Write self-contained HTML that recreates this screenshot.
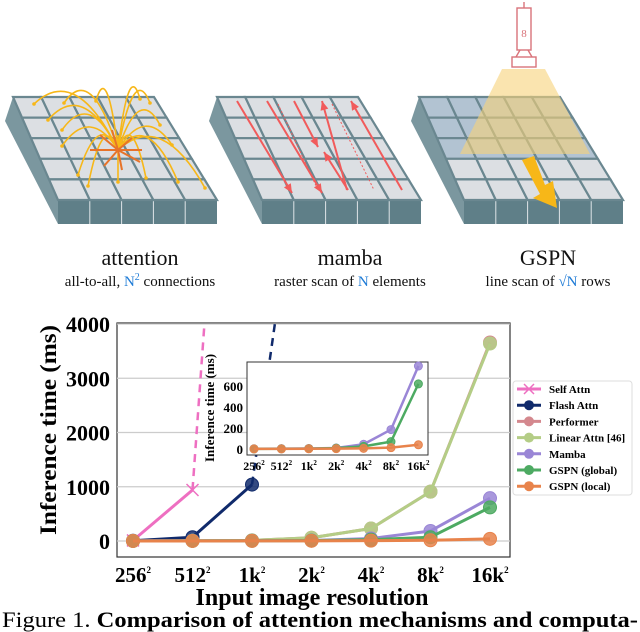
<!DOCTYPE html>
<html><head><meta charset="utf-8">
<style>
html,body{margin:0;padding:0;background:#fff;}
body{width:640px;height:632px;position:relative;overflow:hidden;font-family:"Liberation Serif","Times New Roman",serif;}
svg{position:absolute;left:0;top:0;}
svg text{font-family:"Liberation Serif","Times New Roman",serif;}
</style></head>
<body>
<svg id="illus" width="640" height="300" viewBox="0 0 640 300"></svg>
<svg id="chart" width="640" height="632" viewBox="0 0 640 632"></svg>
<script>
const NS='http://www.w3.org/2000/svg';
function mk(parent,tag,attrs,text){const e=document.createElementNS(NS,tag);for(const k in attrs)e.setAttribute(k,attrs[k]);if(text!==undefined)e.textContent=text;parent.appendChild(e);return e;}

/* ---------- Illustration ---------- */
const il=document.getElementById('illus');
function pt(ox,u,v){
  const tl=[ox+13,97],tr=[ox+154,97],bl=[ox+58,200],br=[ox+217,200];
  const x=(1-v)*((1-u)*tl[0]+u*tr[0])+v*((1-u)*bl[0]+u*br[0]);
  const y=(1-v)*((1-u)*tl[1]+u*tr[1])+v*((1-u)*bl[1]+u*br[1]);
  return [x,y];
}
function panel(ox,name,tint){
  const g=mk(il,'g',{});
  
  
  const p=(u,v)=>pt(ox,u,v).join(',');
  const d=24;
  const a=pt(ox,0,0),b=pt(ox,0,1);
  mk(g,'polygon',{points:`${a[0]},${a[1]} ${b[0]},${b[1]} ${b[0]},${b[1]+d} ${a[0]-8},${a[1]+d}`,fill:'#7b979f'});
  const c=pt(ox,1,1);
  mk(g,'polygon',{points:`${b[0]},${b[1]} ${c[0]},${c[1]} ${c[0]},${c[1]+d} ${b[0]},${b[1]+d}`,fill:'#5f7f88'});
  for(let i=1;i<5;i++){const q=pt(ox,i/5,1);mk(g,'line',{x1:q[0],y1:q[1],x2:q[0],y2:q[1]+d,stroke:'#dfe5e8','stroke-width':1});}
  for(let r=0;r<5;r++)for(let k=0;k<5;k++){
    let f='#dcdfe3';
    if(tint&&r<3) f='#b2c3d2';
    mk(g,'polygon',{points:`${p(k/5,r/5)} ${p((k+1)/5,r/5)} ${p((k+1)/5,(r+1)/5)} ${p(k/5,(r+1)/5)}`,fill:f,stroke:'#6a8790','stroke-width':2.2});
  }
}
panel(0,'attention');
panel(204,'mamba');
panel(406,'gspn',true);
const ctr=[118,150];
const ends=[[34,104],[64,103],[96,101],[140,99],[150,103],[48,120],[62,130],[160,125],[62,146],[172,145],[78,175],[88,186],[118,182],[146,178],[178,182],[205,188]];
ends.forEach(e=>{const mx=(ctr[0]+e[0])/2,my=Math.min(ctr[1],e[1])-40;
 mk(il,'path',{d:`M${ctr[0]},${ctr[1]} Q${mx},${my} ${e[0]},${e[1]}`,fill:'none',stroke:'#f7b718','stroke-width':1.6});
 mk(il,'circle',{cx:e[0],cy:e[1],r:1.8,fill:'#f7b718'});});
[[90,150],[100,135],[112,130],[132,138],[142,150],[140,162],[122,170],[104,166]].forEach(e=>mk(il,'line',{x1:ctr[0],y1:ctr[1],x2:e[0],y2:e[1],stroke:'#e7732a','stroke-width':2}));
[[237,101,292,193],[267,101,322,193],[294,101,318,147],[347,190,322,101],[402,190,351,101],[348,190,324,152]].forEach(a=>{
 mk(il,'line',{x1:a[0],y1:a[1],x2:a[2],y2:a[3],stroke:'#f15b5b','stroke-width':2});
 const ang=Math.atan2(a[3]-a[1],a[2]-a[0]);const L=9,W=4;
 const bx=a[2]-L*Math.cos(ang),by=a[3]-L*Math.sin(ang);
 mk(il,'polygon',{points:`${a[2]},${a[3]} ${bx+W*Math.sin(ang)},${by-W*Math.cos(ang)} ${bx-W*Math.sin(ang)},${by+W*Math.cos(ang)}`,fill:'#f15b5b'});});
[[278,104,318,190],[332,104,374,190]].forEach(a=>mk(il,'line',{x1:a[0],y1:a[1],x2:a[2],y2:a[3],stroke:'#f15b5b','stroke-width':1,'stroke-dasharray':'2,2'}));
mk(il,'polygon',{points:'502,69 545,69 590,154 460,154',fill:'#f6d27a','fill-opacity':0.6});
const lamp=mk(il,'g',{fill:'none',stroke:'#d9737a','stroke-width':1.4});


mk(lamp,'rect',{x:517,y:8,width:14,height:42});
mk(lamp,'rect',{x:512,y:57,width:24,height:10});
mk(lamp,'line',{x1:524,y1:2,x2:524,y2:8});
mk(lamp,'line',{x1:520,y1:50,x2:516,y2:57});mk(lamp,'line',{x1:528,y1:50,x2:532,y2:57});
mk(lamp,'text',{x:524,y:37,'font-size':11,'text-anchor':'middle',fill:'#d9737a',stroke:'none'},'8');
mk(il,'polygon',{points:'522,160 534,156 545,185 553,181 557,208 533,198 540,194',fill:'#f7b718'});
const labs=[[140,'attention'],[350,'mamba'],[548,'GSPN']];
labs.forEach(l=>{const t=mk(il,'text',{x:l[0],y:265,'font-size':22,'text-anchor':'middle',fill:'#111'},l[1]);});
const s1=mk(il,'text',{x:140,y:286,'font-size':15,'text-anchor':'middle',fill:'#111'});
s1.innerHTML='all-to-all, <tspan fill="#1e7bd6">N<tspan font-size="10" dy="-6">2</tspan></tspan><tspan dy="6"> connections</tspan>';

const s2=mk(il,'text',{x:350,y:286,'font-size':15,'text-anchor':'middle',fill:'#111'});
s2.innerHTML='raster scan of <tspan fill="#1e7bd6">N</tspan> elements';

const s3=mk(il,'text',{x:548,y:286,'font-size':15,'text-anchor':'middle',fill:'#111'});
s3.innerHTML='line scan of <tspan fill="#1e7bd6">√N</tspan> rows';


/* ---------- Chart data ---------- */
const categories=['256','512','1k','2k','4k','8k','16k'];
const selfAttn=[10,940];
const flashAttn=[5,70,1040];
const performer=[2,4,12,60,230,910,3660];
const linearAttn=[2,4,12,60,230,910,3640];
const mamba=[2,3,5,10,45,185,790];
const gspnGlobal=[1,2,4,8,25,70,620];
const gspnLocal=[1,1,2,3,6,13,40];
const yTicks=[0,1000,2000,3000,4000];
const insetYTicks=[0,200,400,600];
const legendLabels=['Self Attn','Flash Attn','Performer','Linear Attn [46]','Mamba','GSPN (global)','GSPN (local)'];

const ch=document.getElementById('chart');
const L=117,R=510,T=323,B=557;
const xs=i=>133+i*59.5;
const ys=v=>541-v*0.05425;
mk(ch,'rect',{x:L,y:T,width:R-L,height:B-T,fill:'#fff',stroke:'#333','stroke-width':1.2});
yTicks.forEach(v=>{if(v>0)mk(ch,'line',{x1:L,x2:R,y1:ys(v),y2:ys(v),stroke:'#ccc','stroke-width':1.3});
 const t=mk(ch,'text',{x:L-7,y:ys(v)+8,'font-size':22,'font-weight':'bold','text-anchor':'end'},String(v));
 });
mk(ch,'line',{x1:L,x2:R,y1:ys(0),y2:ys(0),stroke:'#ccc','stroke-width':1.3});
categories.forEach((c,i)=>{const t=mk(ch,'text',{x:xs(i),y:582,'font-size':21,'font-weight':'bold','text-anchor':'middle'});
 t.innerHTML=c+'<tspan font-size="9" dy="-9">2</tspan>';
 });
const yt=mk(ch,'text',{x:0,y:0,'font-size':23,'font-weight':'bold','text-anchor':'middle',textLength:210,lengthAdjust:'spacingAndGlyphs',transform:`translate(56,430) rotate(-90)`},'Inference time (ms)');

const xt=mk(ch,'text',{x:312,y:605,'font-size':24,'font-weight':'bold','text-anchor':'middle'},'Input image resolution');

const cap=mk(ch,'text',{x:2,y:627,'font-size':22,textLength:636,lengthAdjust:'spacingAndGlyphs'});
cap.innerHTML='Figure 1. <tspan font-weight="bold">Comparison of attention mechanisms and computa-</tspan>';


const colors=['#ee6fc1','#102a6b','#d4888e','#b4cd86','#9a86d6','#4daa62','#e8834b'];
function series(g,data,col,xf,yf,w,r,name,marker){
  const pts=data.map((v,i)=>[xf(i),yf(v)]);
  const pl=mk(g,'polyline',{points:pts.map(p=>p.join(',')).join(' '),fill:'none',stroke:col,'stroke-width':w,'stroke-linejoin':'round'});
  
  pts.forEach(p=>{
    if(marker==='x'){const m=mk(g,'path',{d:`M${p[0]-r},${p[1]-r}L${p[0]+r},${p[1]+r}M${p[0]-r},${p[1]+r}L${p[0]+r},${p[1]-r}`,stroke:col,'stroke-width':1.5});
      }
    else{const m=mk(g,'circle',{cx:p[0],cy:p[1],r:r,fill:col,'fill-opacity':0.85,stroke:col,'stroke-width':1});
      }
  });
  return pts;
}
const gm=mk(ch,'g',{});

const sp=[xs(selfAttn.length-1),ys(selfAttn[selfAttn.length-1])];
mk(gm,'line',{x1:sp[0],y1:sp[1],x2:sp[0]+12,y2:T,stroke:colors[0],'stroke-width':2.5,'stroke-dasharray':'8,6'});
const fp=[xs(flashAttn.length-1),ys(flashAttn[flashAttn.length-1])];
mk(gm,'line',{x1:fp[0],y1:fp[1],x2:fp[0]+23,y2:T,stroke:colors[1],'stroke-width':2.5,'stroke-dasharray':'8,6'});
const allS=[selfAttn,flashAttn,performer,linearAttn,mamba,gspnGlobal,gspnLocal];
const names=['self-attn','flash-attn','performer','linear-attn','mamba','gspn-global','gspn-local'];
allS.forEach((d,k)=>series(gm,d,colors[k],xs,ys,3,k===0?6:6.5,names[k],k===0?'x':'o'));

const iL=247,iR=428,iT=362,iB=455;
const ixs=i=>254+i*27.4;
const iys=v=>449-v*0.105;
const gi=mk(ch,'g',{});

mk(gi,'rect',{x:iL,y:iT,width:iR-iL,height:iB-iT,fill:'#fff',stroke:'#333','stroke-width':1});
insetYTicks.forEach(v=>{const t=mk(gi,'text',{x:iL-4,y:iys(v)+5,'font-size':13,'font-weight':'bold','text-anchor':'end'},String(v));
 });
categories.forEach((c,i)=>{const t=mk(gi,'text',{x:ixs(i),y:470,'font-size':12,'font-weight':'bold','text-anchor':'middle'});
 t.innerHTML=c+'<tspan font-size="7" dy="-5">2</tspan>';
 });
const it=mk(gi,'text',{x:0,y:0,'font-size':13,'font-weight':'bold','text-anchor':'middle',transform:'translate(214,408) rotate(-90)'},'Inference time (ms)');

[mamba,gspnGlobal,gspnLocal].forEach((d,k)=>{
  series(gi,d,colors[k+4],ixs,iys,2.5,4,'inset-'+names[k+4],'o');
});

const lg=mk(ch,'g',{});

mk(lg,'rect',{x:513,y:381,width:119,height:114,fill:'#fff',stroke:'#ddd','stroke-width':1,rx:3});
legendLabels.forEach((lab,k)=>{const y=389+k*16.2;
 const e=mk(lg,'g',{});
 
 mk(e,'line',{x1:517,x2:541,y1:y,y2:y,stroke:colors[k],'stroke-width':3});
 if(k===0)mk(e,'path',{d:`M524,${y-5}L534,${y+5}M524,${y+5}L534,${y-5}`,stroke:colors[k],'stroke-width':1.5});
 else mk(e,'circle',{cx:529,cy:y,r:5,fill:colors[k]});
 mk(e,'text',{x:549,y:y+4,'font-size':11,'font-weight':'bold'},lab);});
</script>
</body></html>
